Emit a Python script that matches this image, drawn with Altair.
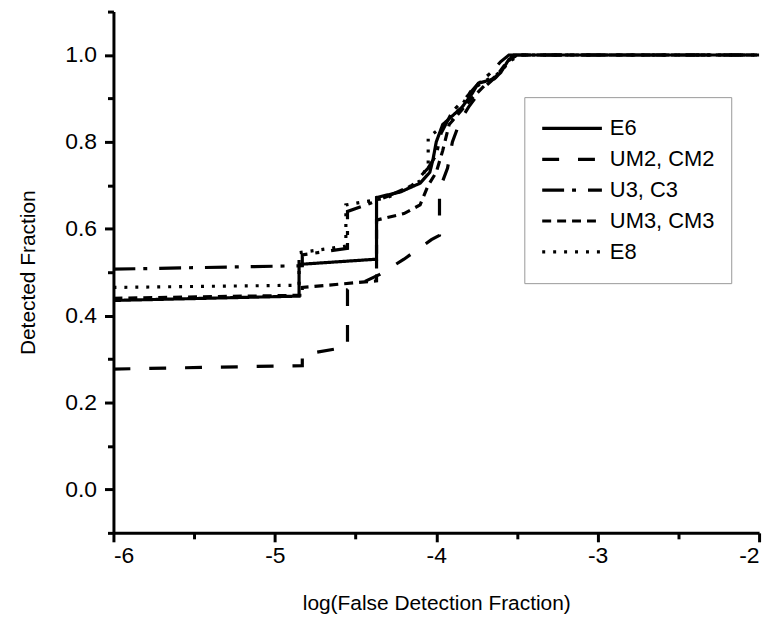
import altair as alt
import pandas as pd

series_names = ["E6", "UM2, CM2", "U3, C3", "UM3, CM3", "E8"]

e6_x = [-6, -4.85, -4.85, -4.37, -4.37, -4.22, -4.1, -4.04, -4.02, -4.0, -3.96, -3.9, -3.84, -3.78, -3.74, -3.64, -3.6, -3.55, -3.5, -2]
e6_y = [0.435, 0.445, 0.518, 0.530, 0.672, 0.685, 0.705, 0.73, 0.76, 0.80, 0.84, 0.86, 0.88, 0.91, 0.935, 0.945, 0.96, 0.99, 1.0, 1.0]

um2_x = [-6, -4.83, -4.83, -4.55, -4.55, -4.35, -4.2, -4.03, -3.98, -3.98, -3.93, -3.9, -3.85, -3.8, -3.72, -3.63, -3.58, -3.52, -2]
um2_y = [0.277, 0.285, 0.31, 0.328, 0.46, 0.495, 0.53, 0.575, 0.585, 0.69, 0.74, 0.80, 0.85, 0.88, 0.92, 0.95, 0.98, 1.0, 1.0]

u3_x = [-6, -4.83, -4.83, -4.55, -4.55, -4.4, -4.3, -4.15, -4.05, -4.0, -3.97, -3.9, -3.82, -3.75, -3.66, -3.6, -3.55, -2]
u3_y = [0.507, 0.515, 0.54, 0.555, 0.64, 0.66, 0.675, 0.70, 0.74, 0.77, 0.82, 0.87, 0.90, 0.93, 0.96, 0.985, 1.0, 1.0]

um3_x = [-6, -4.83, -4.83, -4.37, -4.37, -4.2, -4.1, -4.05, -4.0, -3.96, -3.92, -3.85, -3.78, -3.7, -3.62, -3.56, -3.5, -2]
um3_y = [0.44, 0.447, 0.465, 0.48, 0.62, 0.635, 0.655, 0.70, 0.73, 0.78, 0.84, 0.87, 0.90, 0.93, 0.955, 0.985, 1.0, 1.0]

e8_x = [-6, -4.85, -4.85, -4.56, -4.56, -4.4, -4.3, -4.2, -4.1, -4.05, -4.05, -3.98, -3.9, -3.85, -3.78, -3.7, -3.6, -3.55, -3.48, -2]
e8_y = [0.465, 0.47, 0.545, 0.56, 0.655, 0.665, 0.672, 0.69, 0.71, 0.75, 0.81, 0.83, 0.85, 0.88, 0.92, 0.94, 0.96, 0.985, 1.0, 1.0]

x_ticks = [-6, -5.5, -5, -4.5, -4, -3.5, -3, -2.5, -2]
y_ticks = [-0.1, 0.0, 0.1, 0.2, 0.3, 0.4, 0.5, 0.6, 0.7, 0.8, 0.9, 1.0, 1.1]

rows = []
for name, xs, ys in zip(series_names, [e6_x, um2_x, u3_x, um3_x, e8_x], [e6_y, um2_y, u3_y, um3_y, e8_y]):
    for i, (xv, yv) in enumerate(zip(xs, ys)):
        rows.append({"series": name, "x": xv, "y": yv, "idx": i})
df = pd.DataFrame(rows)

dashes = [[1, 0], [17, 19], [22, 8, 4, 12], [9, 6], [3, 8]]

font = "Liberation Sans"

chart = alt.Chart(df).mark_line(color="black", strokeWidth=3.2, strokeJoin="miter").encode(
    x=alt.X("x:Q",
            scale=alt.Scale(domain=[-6, -2], nice=False, zero=False),
            axis=alt.Axis(values=x_ticks, title="log(False Detection Fraction)",
                          labelExpr="datum.value % 1 === 0 ? '' + datum.value : ''",
                          tickSize={"condition": {"test": "datum.value % 1 === 0", "value": 9}, "value": 6},
                          grid=False, labelPadding=3, titlePadding=25)),
    y=alt.Y("y:Q",
            scale=alt.Scale(domain=[-0.1, 1.1], nice=False, zero=False),
            axis=alt.Axis(values=y_ticks, title="Detected Fraction",
                          labelExpr="round(datum.value * 10) % 2 === 0 ? format(datum.value, '.1f') : ''",
                          tickSize={"condition": {"test": "round(datum.value * 10) % 2 === 0", "value": 9}, "value": 6},
                          grid=False, labelPadding=8, titlePadding=26)),
    strokeDash=alt.StrokeDash("series:N",
                              scale=alt.Scale(domain=series_names, range=dashes),
                              sort=series_names,
                              legend=alt.Legend(title=None, orient="none", legendX=413, legendY=86,
                                                symbolType="stroke", symbolSize=3600,
                                                symbolStrokeWidth=3.2, symbolStrokeColor="black",
                                                labelFontSize=22, labelFont=font, labelColor="black",
                                                labelOffset=6, rowPadding=0, clipHeight=31,
                                                strokeColor="#999999", fillColor="white",
                                                padding=16)),
    order="idx:Q",
).properties(
    width=649, height=524,
    padding={"left": 10, "top": 0, "right": 8, "bottom": 4},
).configure_view(stroke=None).configure_axis(
    domainColor="black", domainWidth=3, tickColor="black", tickWidth=3,
    labelFont=font, labelFontSize=23, labelColor="black",
    titleFont=font, titleFontSize=21, titleFontWeight="normal", titleColor="black",
)

chart.save("out.html", embed_options={"renderer": "svg", "actions": False})
